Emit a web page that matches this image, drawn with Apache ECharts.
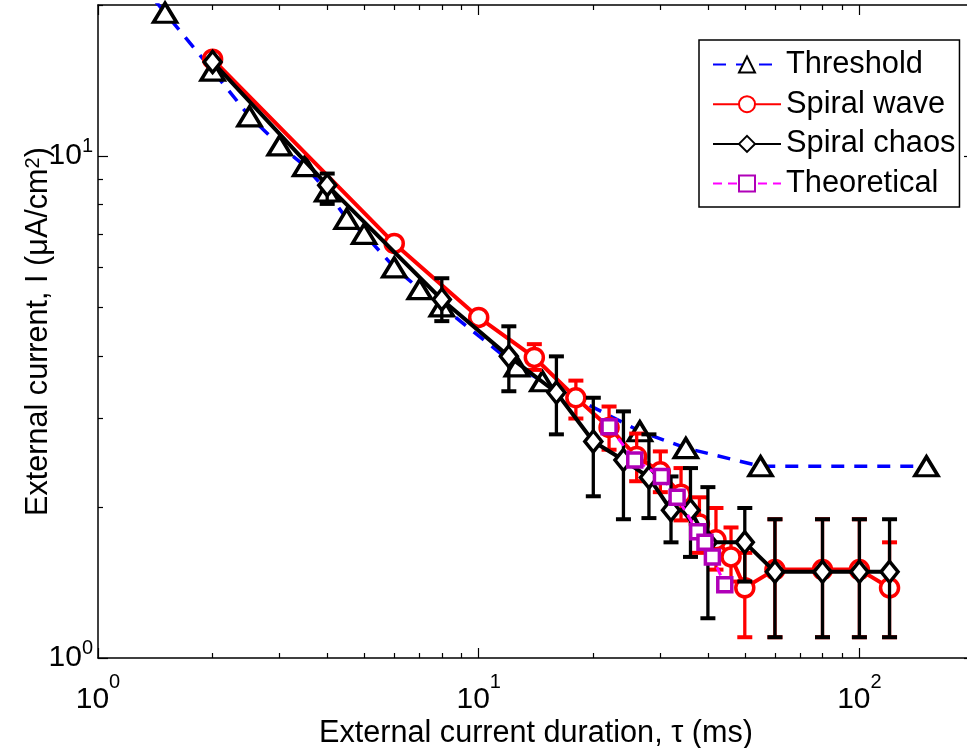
<!DOCTYPE html>
<html>
<head>
<meta charset="utf-8">
<script src="https://cdn.jsdelivr.net/npm/echarts@6/dist/echarts.min.js"></script>
<style>
html,body{margin:0;padding:0;background:#fff;}
#chart{width:967px;height:748px;}
</style>
</head>
<body>
<div id="chart"></div>
<script>
// ---------------- data ----------------
var thresholdX = [1.3, 1.5, 2, 2.5, 3, 3.5, 4, 4.5, 5, 6, 7, 8, 12.6, 14.7, 26.5, 35, 55, 150];
var thresholdY = [22.0, 19.3, 14.8, 12.0, 10.5, 9.55, 8.5, 7.5, 7.0, 6.0, 5.43, 5.02, 3.81, 3.56, 2.83, 2.62, 2.41, 2.41];

var waveX  = [2, 6, 10, 14, 18, 22, 26, 30, 34, 38, 42, 46, 50, 60, 80, 100, 120];
var waveY  = [15.6, 6.7, 4.77, 3.97, 3.30, 2.88, 2.52, 2.35, 2.12, 1.85, 1.72, 1.59, 1.38, 1.5, 1.5, 1.5, 1.38];
var waveLo = [null, null, null, 3.75, 3.00, 2.60, 2.25, 2.14, 1.88, 1.62, 1.50, 1.42, 1.10, 1.10, 1.10, 1.10, 1.10];
var waveHi = [null, null, null, 4.22, 3.57, 3.17, 2.80, 2.58, 2.39, 2.09, 1.99, 1.82, 1.62, 1.89, 1.89, 1.89, 1.70];

var chaosX  = [2, 4, 8, 12, 16, 20, 24, 28, 32, 36, 40, 50, 60, 80, 100, 120];
var chaosY  = [15.4, 8.75, 5.18, 3.99, 3.38, 2.70, 2.48, 2.29, 1.97, 1.97, 1.70, 1.70, 1.485, 1.485, 1.485, 1.485];
var chaosLo = [null, 8.03, 4.69, 3.40, 2.79, 2.10, 1.89, 1.90, 1.70, 1.59, 1.20, 1.42, 1.10, 1.10, 1.10, 1.10];
var chaosHi = [null, 9.23, 5.71, 4.58, 3.99, 3.30, 3.10, 2.79, 2.30, 2.39, 2.19, 1.99, 1.89, 1.89, 1.89, 1.89];

var theoryX = [22, 25.7, 30.2, 33.2, 37.6, 39.3, 41.1, 44.3];
var theoryY = [2.89, 2.48, 2.30, 2.09, 1.785, 1.70, 1.59, 1.40];

var xMajor = [1, 10, 100];
var xMinor = [2, 3, 4, 5, 6, 7, 8, 9, 20, 30, 40, 50, 60, 70, 80, 90, 200];
var yMajor = [1, 10];
var yMinor = [2, 3, 4, 5, 6, 7, 8, 9, 20];

var xTitle = 'External current duration, \u03c4 (ms)';
var yTitle = 'External current, I (\u03bcA/cm{sup|2})';
var names = ['Threshold', 'Spiral wave', 'Spiral chaos', 'Theoretical'];

// ---------------- helpers ----------------
var FONT = '"Liberation Sans", Arial, Helvetica, sans-serif';
function zip(a, b) { return a.map(function (v, i) { return [v, b[i]]; }); }
function errData(x, lo, hi) {
  var out = [];
  for (var i = 0; i < x.length; i++) if (lo[i] != null) out.push([x[i], lo[i], hi[i]]);
  return out;
}
function errRender(color) {
  return function (params, api) {
    var x = api.value(0), lo = api.value(1), hi = api.value(2);
    var a = api.coord([x, lo]), b = api.coord([x, hi]);
    var w = 7.5;
    return {
      type: 'group',
      children: [
        { type: 'line', shape: { x1: a[0], y1: a[1], x2: b[0], y2: b[1] }, style: { stroke: color, lineWidth: 3.3 } },
        { type: 'line', shape: { x1: a[0] - w, y1: a[1], x2: a[0] + w, y2: a[1] }, style: { stroke: color, lineWidth: 4 } },
        { type: 'line', shape: { x1: b[0] - w, y1: b[1], x2: b[0] + w, y2: b[1] }, style: { stroke: color, lineWidth: 4 } }
      ]
    };
  };
}
var powLabel = function (v) { return '{b|10}{s|' + Math.round(Math.log(v) / Math.LN10) + '}'; };
var yRich = {
  b: { fontSize: 30, fontFamily: FONT, color: '#000', lineHeight: 40 },
  s: { fontSize: 20, fontFamily: FONT, color: '#000', lineHeight: 16, verticalAlign: 'top' }
};
var xRich = {
  b: { fontSize: 30, fontFamily: FONT, color: '#000', lineHeight: 56 },
  s: { fontSize: 20, fontFamily: FONT, color: '#000', lineHeight: 32, verticalAlign: 'top' }
};

function xAx(grid, pos, ticks, len, main) {
  var ax = {
    type: 'log', logBase: 10, min: 1, max: 200, gridIndex: grid, position: pos,
    axisLine: { show: main, onZero: false, lineStyle: { color: '#000', width: 1.5 } },
    axisTick: { show: true, inside: true, length: len, customValues: ticks, lineStyle: { color: '#000', width: 1.2 } },
    axisLabel: { show: false },
    splitLine: { show: false }, minorTick: { show: false }
  };
  if (main && pos === 'bottom') {
    ax.axisLabel = { show: true, customValues: xMajor, formatter: powLabel, rich: xRich, margin: 14, verticalAlign: 'top' };
    ax.name = xTitle; ax.nameLocation = 'middle'; ax.nameGap = 60; ax.nameMoveOverlap = false;
    ax.nameTextStyle = { fontSize: 30.6, fontFamily: FONT, color: '#000' };
  }
  return ax;
}
function yAx(grid, pos, ticks, len, main) {
  var ax = {
    type: 'log', logBase: 10, min: 1, max: 20, gridIndex: grid, position: pos,
    axisLine: { show: main, onZero: false, lineStyle: { color: '#000', width: 1.5 } },
    axisTick: { show: true, inside: true, length: len, customValues: ticks, lineStyle: { color: '#000', width: 1.2 } },
    axisLabel: { show: false },
    splitLine: { show: false }, minorTick: { show: false }
  };
  if (main && pos === 'left') {
    ax.axisLabel = { show: true, customValues: yMajor, formatter: powLabel, rich: yRich, margin: 5 };
    ax.name = yTitle; ax.nameLocation = 'middle'; ax.nameGap = 44; ax.nameRotate = 90; ax.nameMoveOverlap = false;
    ax.nameTextStyle = { fontSize: 30.6, fontFamily: FONT, color: '#000',
      rich: { sup: { fontSize: 20, fontFamily: FONT, color: '#000', lineHeight: 14, verticalAlign: 'top' } } };
  }
  return ax;
}

var gridPos = { left: 98, top: 5, right: -7, bottom: 90, containLabel: false, outerBoundsMode: 'none' };

var option = {
  animation: false,
  backgroundColor: '#fff',
  grid: [Object.assign({}, gridPos), Object.assign({}, gridPos)],
  xAxis: [
    xAx(0, 'bottom', xMajor, 10, true),
    xAx(0, 'top', xMajor, 10, true),
    xAx(1, 'bottom', xMinor, 5, false),
    xAx(1, 'top', xMinor, 5, false)
  ],
  yAxis: [
    yAx(0, 'left', yMajor, 10, true),
    yAx(0, 'right', yMajor, 10, true),
    yAx(1, 'left', yMinor, 5, false),
    yAx(1, 'right', yMinor, 5, false)
  ],
  legend: {
    data: names,
    orient: 'vertical',
    left: 699, top: 40,
    backgroundColor: '#fff',
    borderColor: '#000', borderWidth: 1.5,
    padding: [9, 4, 8, 13],
    itemGap: 8.7,
    itemWidth: 68, itemHeight: 20,
    textStyle: { fontSize: 30.8, fontFamily: FONT, color: '#000', lineHeight: 30 }
  },
  series: [
    {
      name: names[0], type: 'line', xAxisIndex: 0, yAxisIndex: 0,
      data: zip(thresholdX, thresholdY).map(function (p, i) { return i === 0 ? { value: p, symbol: 'none' } : p; }),
      symbol: 'triangle', symbolSize: [23, 19], showAllSymbol: true,
      lineStyle: { color: '#0000ff', width: 3.5, type: [13, 10] },
      itemStyle: { color: '#fff', borderColor: '#000', borderWidth: 3.5 },
      clip: true, z: 2
    },
    {
      name: 'wave-err', type: 'custom', xAxisIndex: 0, yAxisIndex: 0,
      data: errData(waveX, waveLo, waveHi), renderItem: errRender('#ff0000'), z: 3, silent: true
    },
    {
      name: names[1], type: 'line', xAxisIndex: 0, yAxisIndex: 0,
      data: zip(waveX, waveY), symbol: 'circle', symbolSize: 18, showAllSymbol: true,
      lineStyle: { color: '#ff0000', width: 4 },
      itemStyle: { color: '#fff', borderColor: '#ff0000', borderWidth: 3.5 },
      z: 4
    },
    {
      name: 'chaos-err', type: 'custom', xAxisIndex: 0, yAxisIndex: 0,
      data: errData(chaosX, chaosLo, chaosHi), renderItem: errRender('#000000'), z: 5, silent: true
    },
    {
      name: names[2], type: 'line', xAxisIndex: 0, yAxisIndex: 0,
      data: zip(chaosX, chaosY), symbol: 'diamond', symbolSize: [17, 21], showAllSymbol: true,
      lineStyle: { color: '#000000', width: 4 },
      itemStyle: { color: '#fff', borderColor: '#000', borderWidth: 3.5 },
      z: 6
    },
    {
      name: names[3], type: 'line', xAxisIndex: 0, yAxisIndex: 0,
      data: zip(theoryX, theoryY), symbol: 'rect', symbolSize: 14, showAllSymbol: true,
      lineStyle: { color: '#ff00ff', width: 3, type: [9, 6] },
      itemStyle: { color: '#fff', borderColor: '#b000b8', borderWidth: 3.5 },
      z: 7
    }
  ]
};

var chart = echarts.init(document.getElementById('chart'), null, { renderer: 'canvas' });
chart.setOption(option);
</script>
</body>
</html>
